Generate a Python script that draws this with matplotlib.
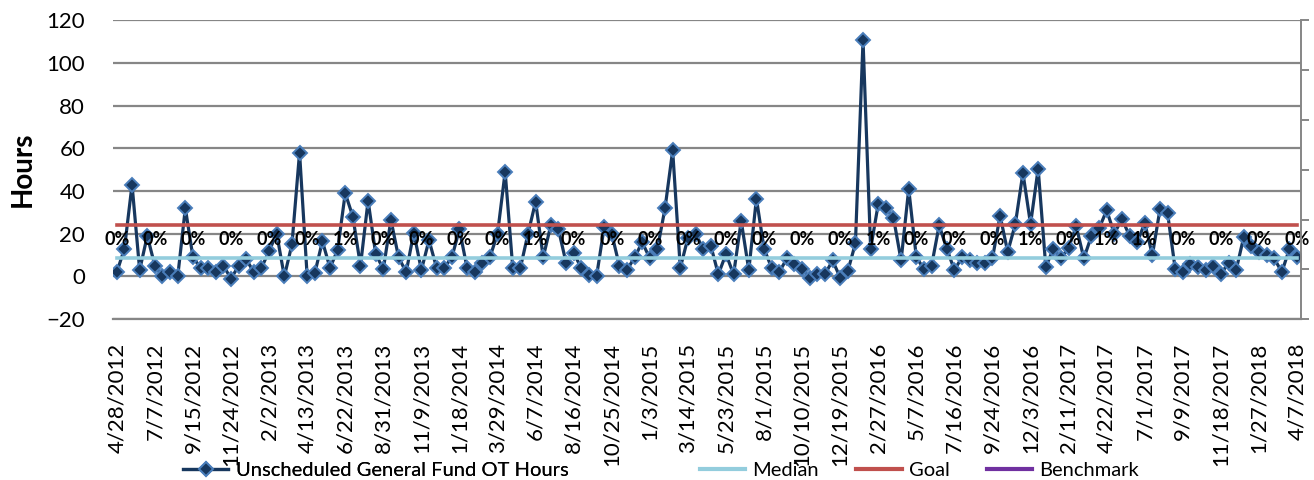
import numpy as np
import matplotlib
matplotlib.use("Agg")
import matplotlib.pyplot as plt
from matplotlib.lines import Line2D

plt.rcParams["font.family"] = ["Lato", "DejaVu Sans"]

# biweekly unscheduled general fund OT hours, 4/28/2012 .. 4/7/2018
ot_hours = [
    2, 13, 43, 3, 19, 5, 0, 2, 0, 32,
    9, 4, 4, 2, 5, -1, 5, 8, 2, 4,
    12, 20, 0, 15, 58, 0, 1.5, 16.5, 4, 12.5,
    39, 28, 5, 35.5, 10.5, 3.5, 26.5, 9, 2, 20.5,
    3, 17, 4, 4, 9, 22, 4, 2, 6.5, 9,
    20, 49, 4, 4, 20, 35, 9, 24, 22, 6.5,
    11, 4, 0.5, 0, 23, 20, 5, 3, 9, 16,
    8.5, 13, 32, 59, 4, 18, 20, 13, 14.5, 1,
    10.5, 1, 26, 3, 36.5, 13, 4, 2, 8.5, 6,
    3.5, -0.5, 1, 1, 7.5, -0.5, 2.5, 15.5, 110.5, 13,
    34, 32, 27.5, 7.5, 41, 9, 3.5, 5, 24, 13,
    3, 9, 7.5, 6.5, 6.5, 8.5, 28.5, 11.5, 24.5, 48.5,
    24.5, 50.5, 4.5, 13, 8.5, 13.5, 23.5, 8.5, 19, 22.5,
    31, 20, 27, 19, 16, 25, 10, 31.5, 29.5, 3.5,
    2, 6, 4.5, 3, 5, 1, 6.5, 3, 18.5, 14.5,
    11.5, 10, 8.5, 2, 13, 9,
]
median_value = 8.5
goal_value = 24

tick_labels = [
    "4/28/2012", "7/7/2012", "9/15/2012", "11/24/2012", "2/2/2013",
    "4/13/2013", "6/22/2013", "8/31/2013", "11/9/2013", "1/18/2014",
    "3/29/2014", "6/7/2014", "8/16/2014", "10/25/2014", "1/3/2015",
    "3/14/2015", "5/23/2015", "8/1/2015", "10/10/2015", "12/19/2015",
    "2/27/2016", "5/7/2016", "7/16/2016", "9/24/2016", "12/3/2016",
    "2/11/2017", "4/22/2017", "7/1/2017", "9/9/2017", "11/18/2017",
    "1/27/2018", "4/7/2018",
]
pct_labels = [
    "0%", "0%", "0%", "0%", "0%", "0%", "1%", "0%", "0%", "0%",
    "0%", "1%", "0%", "0%", "0%", "0%", "0%", "0%", "0%", "0%",
    "1%", "0%", "0%", "0%", "1%", "0%", "1%", "1%", "0%", "0%",
    "0%", "0%",
]
label_step = 5
pct_label_y = 17.3

navy = "#17375E"
marker_edge = "#4A7EBB"
median_color = "#93CDDD"
goal_color = "#C0504D"
bench_color = "#7030A0"
grid_color = "#868686"

n = len(ot_hours)
x = np.arange(n)

fig = plt.figure(figsize=(13.14, 4.8), dpi=100)
ax = fig.add_axes([0.086, 0.335, 0.904, 0.623])

ax.plot(x, ot_hours, color=navy, lw=2.3, marker="D", ms=7.5,
        mfc=navy, mec=marker_edge, mew=1.4, zorder=3)
ax.plot(x, np.full(n, median_value), color=median_color, lw=2.6, zorder=4)
ax.plot(x, np.full(n, goal_value), color=goal_color, lw=2.6, zorder=4)

for k, lab in enumerate(pct_labels):
    ax.text(x[k * label_step], pct_label_y, lab, ha="center", va="center",
            fontsize=13, fontweight="bold", color="black", zorder=6)

ax.set_xlim(-0.5, n - 0.5)
ax.set_ylim(-20, 120)
ax.set_yticks(range(-20, 121, 20))
ax.yaxis.grid(True, color=grid_color, lw=1.6)
ax.set_axisbelow(True)
ax.tick_params(axis="y", length=0, pad=20, labelsize=16)

ax.set_xticks(x[::label_step])
ax.set_xticklabels(tick_labels, rotation=90, fontsize=16)
ax.tick_params(axis="x", length=0, pad=17)

for side in ["top", "left", "right"]:
    ax.spines[side].set_visible(False)
ax.spines["bottom"].set_color(grid_color)
ax.spines["bottom"].set_linewidth(1.6)

ax.set_ylabel("Hours", fontsize=20, fontweight="bold", labelpad=8)

# empty secondary axis on the right
ax2 = ax.twinx()
ax2.set_ylim(0, 6)
ax2.set_yticks(range(7))
ax2.set_yticklabels([])
ax2.tick_params(axis="y", direction="out", length=6, width=1.4, color=grid_color)
for side in ["top", "left", "bottom"]:
    ax2.spines[side].set_visible(False)
ax2.spines["right"].set_color(grid_color)
ax2.spines["right"].set_linewidth(1.4)

h_ot = Line2D([], [], color=navy, lw=2.3, marker="D", ms=7.5,
              mfc=navy, mec=marker_edge, mew=1.4)
h_med = Line2D([], [], color=median_color, lw=3)
h_goal = Line2D([], [], color=goal_color, lw=3)
h_bench = Line2D([], [], color=bench_color, lw=3)

leg_kw = dict(frameon=False, fontsize=14.5, handlelength=2.25, handletextpad=0.35)
leg1 = fig.legend([h_ot], ["Unscheduled General Fund OT Hours"],
                  loc="lower left", bbox_to_anchor=(0.1256, -0.035), **leg_kw)
fig.legend([h_med, h_goal, h_bench], ["Median", "Goal", "Benchmark"],
           loc="lower left", bbox_to_anchor=(0.519, -0.035), ncol=3,
           columnspacing=1.85, **leg_kw)
fig.add_artist(leg1)

fig.savefig("out.png", dpi=100)
